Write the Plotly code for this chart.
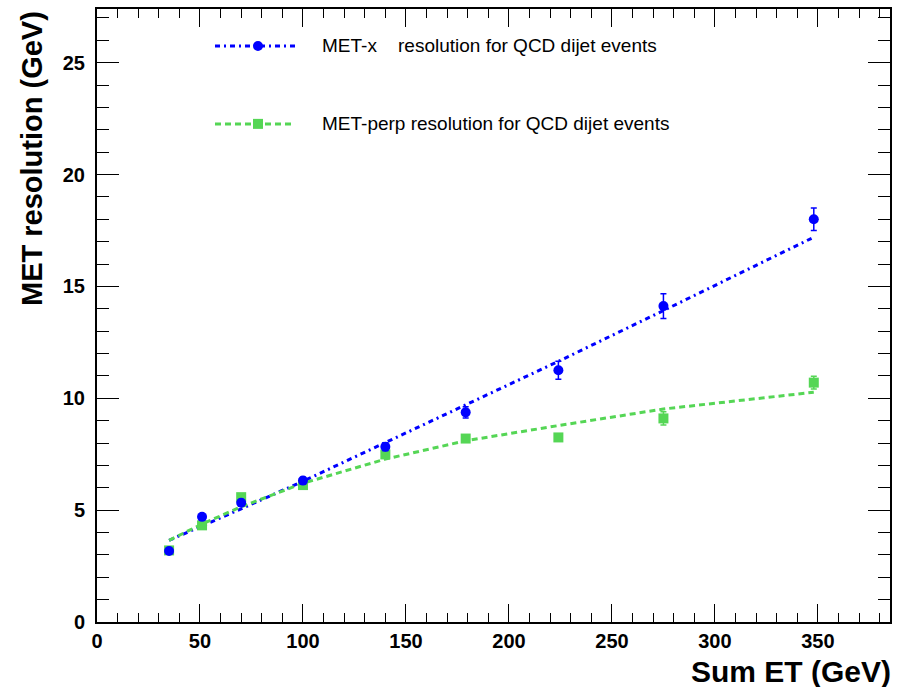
import plotly.graph_objects as go

# Sum ET bin centres (GeV)
sum_et = [35, 51, 70, 100, 140, 179, 224, 275, 348]

# MET-x resolution (GeV) and errors
metx_res = [3.17, 4.70, 5.33, 6.32, 7.83, 9.37, 11.25, 14.12, 18.0]
metx_err = [0.10, 0.10, 0.15, 0.15, 0.18, 0.25, 0.40, 0.55, 0.50]
# MET-x fit curve read at the same Sum ET values
metx_fit = [3.65, 4.28, 5.06, 6.29, 8.02, 9.70, 11.65, 13.92, 17.2]

# MET-perp resolution (GeV) and errors
metperp_res = [3.20, 4.32, 5.58, 6.12, 7.49, 8.20, 8.25, 9.10, 10.70]
metperp_err = [0.10, 0.10, 0.12, 0.12, 0.12, 0.12, 0.12, 0.30, 0.28]
# MET-perp fit curve read at the same Sum ET values
metperp_fit = [3.65, 4.38, 5.15, 6.20, 7.28, 8.10, 8.78, 9.52, 10.27]

# Tick labels
x_ticks = [0, 50, 100, 150, 200, 250, 300, 350]
y_ticks = [0, 5, 10, 15, 20, 25]

BLUE = "#0000ff"
GREEN = "#55d655"

fig = go.Figure()

fig.add_trace(go.Scatter(
    x=sum_et, y=metx_fit, mode="lines",
    line=dict(color=BLUE, width=3, dash="5px,4px,2px,4px"),
    showlegend=False, hoverinfo="skip"))
fig.add_trace(go.Scatter(
    x=sum_et, y=metperp_fit, mode="lines",
    line=dict(color=GREEN, width=3, dash="6px,4px"),
    showlegend=False, hoverinfo="skip"))

fig.add_trace(go.Scatter(
    x=sum_et, y=metperp_res, mode="markers",
    marker=dict(symbol="square", size=10, color=GREEN),
    error_y=dict(type="data", array=metperp_err, color=GREEN, thickness=1.5, width=3),
    showlegend=False))
fig.add_trace(go.Scatter(
    x=sum_et, y=metx_res, mode="markers",
    marker=dict(symbol="circle", size=10, color=BLUE),
    error_y=dict(type="data", array=metx_err, color=BLUE, thickness=1.5, width=3),
    showlegend=False))

FONT = "Liberation Sans"

axis_common = dict(
    showgrid=False, zeroline=False, automargin=False,
    showline=True, linecolor="black", linewidth=2,
    mirror="allticks", ticks="inside", tickcolor="black", tickwidth=1,
    tickfont=dict(family=FONT, size=20, color="black"),
)

fig.update_xaxes(range=[0, 385], tickmode="array", tickvals=x_ticks,
                 ticktext=[f"<b>{v}</b>" for v in x_ticks], ticklen=18,
                 minor=dict(dtick=10, tick0=0, ticks="inside", ticklen=9, tickcolor="black", tickwidth=1),
                 **axis_common)
fig.update_yaxes(range=[0, 27.4], tickmode="array", tickvals=y_ticks,
                 ticktext=[f"<b>{v}</b>" for v in y_ticks], ticklen=22,
                 minor=dict(dtick=1, tick0=0, ticks="inside", ticklen=12, tickcolor="black", tickwidth=1),
                 ticklabelstandoff=6,
                 **axis_common)

# Legend (drawn manually, ROOT style)
row1_y, row2_y = 0.9397, 0.8126
lx0, lx1, lmark, ltext = 0.1488, 0.2497, 0.203, 0.2812
shapes = [
    dict(type="line", xref="paper", yref="paper", x0=lx0, x1=lx1, y0=row1_y, y1=row1_y,
         line=dict(color=BLUE, width=3, dash="5px,4px,2px,4px")),
    dict(type="circle", xref="paper", yref="paper", xsizemode="pixel", ysizemode="pixel",
         xanchor=lmark, yanchor=row1_y, x0=-5, x1=5, y0=-5, y1=5,
         fillcolor=BLUE, line=dict(color=BLUE, width=0)),
    dict(type="line", xref="paper", yref="paper", x0=lx0, x1=lx1, y0=row2_y, y1=row2_y,
         line=dict(color=GREEN, width=3, dash="6px,4px")),
    dict(type="rect", xref="paper", yref="paper", xsizemode="pixel", ysizemode="pixel",
         xanchor=lmark, yanchor=row2_y, x0=-5, x1=5, y0=-5, y1=5,
         fillcolor=GREEN, line=dict(color=GREEN, width=0)),
]

leg_font = dict(family=FONT, size=19, color="black")
annotations = [
    dict(text="MET-x", x=ltext, y=row1_y, xref="paper", yref="paper",
         xanchor="left", yanchor="middle", showarrow=False, font=leg_font),
    dict(text="resolution for QCD dijet events", x=0.3767, y=row1_y, xref="paper", yref="paper",
         xanchor="left", yanchor="middle", showarrow=False, font=leg_font),
    dict(text="MET-perp resolution for QCD dijet events", x=ltext, y=row2_y,
         xref="paper", yref="paper", xanchor="left", yanchor="middle", showarrow=False,
         font=leg_font),
    dict(text="<b>Sum ET (GeV)</b>", x=1.004, y=-0.0807, xref="paper", yref="paper",
         xanchor="right", yanchor="middle", showarrow=False,
         font=dict(family=FONT, size=30, color="black")),
    dict(text="<b>MET resolution (GeV)</b>", x=-0.0826, y=1.0, xref="paper", yref="paper",
         xanchor="center", yanchor="top", textangle=-90, showarrow=False,
         font=dict(family=FONT, size=29, color="black")),
]

fig.update_layout(
    width=900, height=687,
    margin=dict(l=97, r=10, t=9, b=64.5, autoexpand=False),
    paper_bgcolor="white", plot_bgcolor="white",
    shapes=shapes, annotations=annotations,
    showlegend=False,
)

# remove the default 8px page margin so the figure fills the window exactly
fig.write_html("out.html", config={"displayModeBar": False},
               post_script="document.body.style.margin='0px';")
